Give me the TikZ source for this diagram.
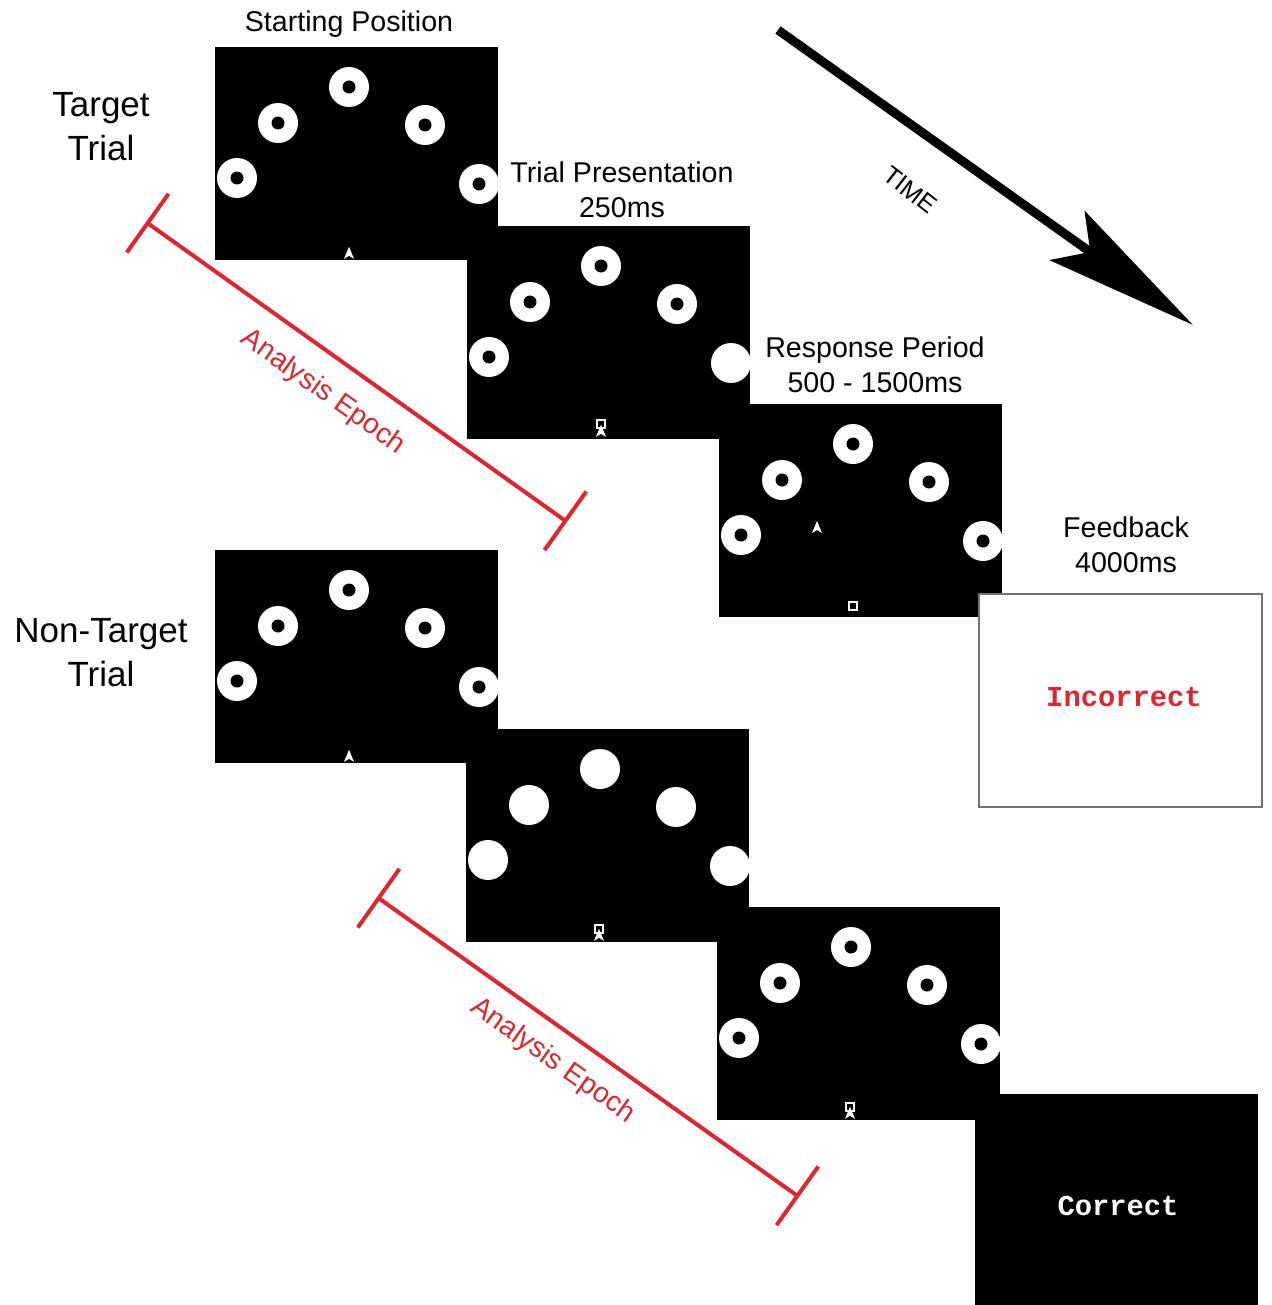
\documentclass[tikz,border=0pt]{standalone}
\usepackage{fontspec}
\setmainfont{Liberation Sans}
\setmonofont{Liberation Mono}
\usetikzlibrary{arrows.meta, calc}

\definecolor{epochred}{RGB}{222,38,48}

\tikzset{
  screen/.style={fill=black, minimum width=141.5pt, minimum height=106.5pt, inner sep=0pt, anchor=north west},
  feedback/.style={screen, fill=white, draw=black!55, line width=1pt},
  disc/.style={circle, fill=white, minimum size=20pt, inner sep=0pt},
  hole/.style={circle, fill=black, minimum size=6.5pt, inner sep=0pt},
  caption/.style={align=center, font=\fontsize{14.3}{17.5}\selectfont},
  trialname/.style={align=center, font=\fontsize{17.5}{22}\selectfont},
  feedtext/.style={font=\fontsize{14.4}{17}\selectfont\ttfamily\bfseries},
  epoch/.style={draw=epochred, line width=2pt, {Bar[width=36pt]}-{Bar[width=36pt]}},
  epochlabel/.style={text=epochred, font=\fontsize{14.2}{17}\selectfont},
}

% mouse pointer and fixation box
\newcommand{\pointer}[1]{\fill[white] (#1) ++(0,-7) -- ++(5,12) -- ++(-5,-3) -- ++(-5,3) -- cycle;}
\newcommand{\cursorbox}[1]{\draw[white, line width=0.8pt] (#1) ++(-4,-4) rectangle ++(8,8);}

\begin{document}
\begin{tikzpicture}[x=0.5pt, y=-0.5pt]
	\useasboundingbox (0,0) rectangle (1271,1305);

	% target trial
	\node[screen] (s1) at (215,47) {};
	\node[screen] (s2) at (467,226) {};
	\node[screen] (s3) at (719,404) {};
	\node[feedback] (s4) at (978,593) {};
	\node[feedtext, text=epochred] (incorrect) at (1124,697) {Incorrect};

	% non-target trial
	\node[screen] (s5) at (215,550) {};
	\node[screen] (s6) at (466,729) {};
	\node[screen] (s7) at (717,907) {};
	\node[screen] (s8) at (975,1094) {};
	\node[feedtext, text=white] (correct) at (1118,1206) {Correct};

	% targets
	\foreach \s in {s1,s2,s3,s5,s6,s7}
		\foreach \dx/\dy [count=\k] in {22/131,63/76,134/40,210/78,264/137}
			\node[disc] (\s d\k) at ($(\s.north west)+(\dx,\dy)$) {};
	\foreach \s/\n in {s1/5,s2/4,s3/5,s5/5,s7/5}
		\foreach \k in {1,...,\n}
			\node[hole] (\s h\k) at (\s d\k) {};

	% cursors
	\coordinate (p1) at ($(s1.south west)+(134,-7)$);
	\coordinate (b2) at ($(s2.south west)+(134,-16)$);
	\coordinate (p2) at ($(s2.south west)+(134,-8)$);
	\coordinate (p3) at ($(s3.north west)+(98,124)$);
	\coordinate (b3) at ($(s3.south west)+(134,-12)$);
	\coordinate (p5) at ($(s5.south west)+(134,-7)$);
	\coordinate (b6) at ($(s6.south west)+(133,-14)$);
	\coordinate (p6) at ($(s6.south west)+(133,-7)$);
	\coordinate (b7) at ($(s7.south west)+(133,-14)$);
	\coordinate (p7) at ($(s7.south west)+(133,-7)$);
	\pointer{p1}
	\cursorbox{b2} \pointer{p2}
	\pointer{p3} \cursorbox{b3}
	\pointer{p5}
	\cursorbox{b6} \pointer{p6}
	\cursorbox{b7} \pointer{p7}

	% labels
	\node[trialname] (target) at (101,127) {Target\\Trial};
	\node[trialname] (nontarget) at (101,653) {Non-Target\\Trial};
	\node[caption] (cap1) at (349,24) {Starting Position};
	\node[caption] (cap2) at (622,190) {Trial Presentation\\250ms};
	\node[caption] (cap3) at (875,365) {Response Period\\500 - 1500ms};
	\node[caption] (cap4) at (1126,545) {Feedback\\4000ms};

	% time arrow
	\coordinate (t0) at (778,30);
	\coordinate (t1) at (1193,325);
	\draw[line width=4.5pt, -{Stealth[length=77pt, width=30pt, inset=14pt]}] (t0) -- (t1);
	\node[font=\fontsize{12.5}{15}\selectfont, rotate=-38] (time) at (910,190) {TIME};

	% analysis epochs
	\coordinate (e1) at (146,222);
	\coordinate (e2) at (567,522);
	\coordinate (e3) at (377,897);
	\coordinate (e4) at (799,1197);
	\draw[epoch] (e1) -- node[epochlabel, pos=0.47, sloped, below=7pt] (ep1) {Analysis Epoch} (e2);
	\draw[epoch] (e3) -- node[epochlabel, pos=0.46, sloped, below=5pt] (ep2) {Analysis Epoch} (e4);
\end{tikzpicture}
\end{document}
